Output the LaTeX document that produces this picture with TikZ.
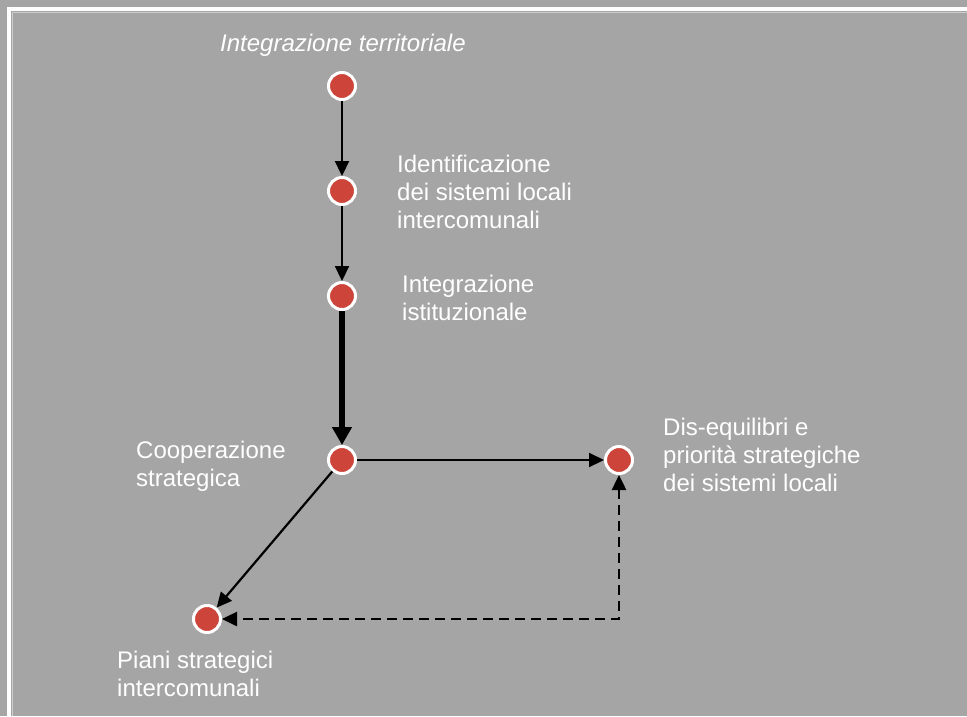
\documentclass[tikz,border=0pt]{standalone}
\usepackage{fontspec}
\setmainfont{Liberation Sans}
\usetikzlibrary{arrows.meta}
\definecolor{bggray}{RGB}{165,165,165}
\definecolor{framegray}{RGB}{205,205,205}
\definecolor{dotred}{RGB}{204,68,58}
\begin{document}
\begin{tikzpicture}[x=1pt,y=-1pt,
  dot/.style={circle,fill=dotred,draw=white,line width=3pt,minimum size=27pt,inner sep=0pt},
  lbl/.style={anchor=base west,align=left,inner sep=0pt,text=white,
    font=\fontsize{24}{27.8}\selectfont},
  thinlink/.style={line width=2.2pt,-{Triangle[length=15pt,width=14pt]}},
  thicklink/.style={line width=6pt,-{Triangle[length=18pt,width=19pt]}},
  dashlink/.style={line width=2.5pt,dash pattern=on 10pt off 6pt,
    {Triangle[length=15pt,width=14pt]}-{Triangle[length=15pt,width=14pt]}}]
  % background and frame
  \fill[bggray] (0,0) rectangle (967,716);
  \useasboundingbox (0,0) rectangle (967,716);
  \draw[white,line width=4pt] (9,716) -- (9,9) -- (967,9);
  \draw[framegray,line width=1pt] (12.5,716) -- (12.5,12.5) -- (967,12.5);

  % stages
  \node[dot] (terr) at (342,86) {};
  \node[dot] (ident) at (342,191) {};
  \node[dot] (istit) at (342,296) {};
  \node[dot] (coop) at (342,460) {};
  \node[dot] (diseq) at (619,460) {};
  \node[dot] (piani) at (207,619) {};

  % labels (anchored at the baseline of their last line)
  \node[lbl,font=\fontsize{24}{27.8}\selectfont\itshape] (tterr) at (220,51) {Integrazione territoriale};
  \node[lbl] (tident) at (397,228) {Identificazione\\dei sistemi locali\\intercomunali};
  \node[lbl] (tistit) at (402,320) {Integrazione\\istituzionale};
  \node[lbl] (tcoop) at (136,486) {Cooperazione\\strategica};
  \node[lbl] (tdiseq) at (663,491) {Dis-equilibri e\\priorità strategiche\\dei sistemi locali};
  \node[lbl] (tpiani) at (117,696) {Piani strategici\\intercomunali};

  % connectors
  \draw[thinlink] (terr) -- (ident);
  \draw[thinlink] (ident) -- (istit);
  \draw[thicklink] (istit) -- (coop);
  \draw[thinlink] (coop) -- (diseq);
  \draw[thinlink] (coop) -- (piani);
  \draw[dashlink] (diseq) |- (piani);
\end{tikzpicture}
\end{document}
